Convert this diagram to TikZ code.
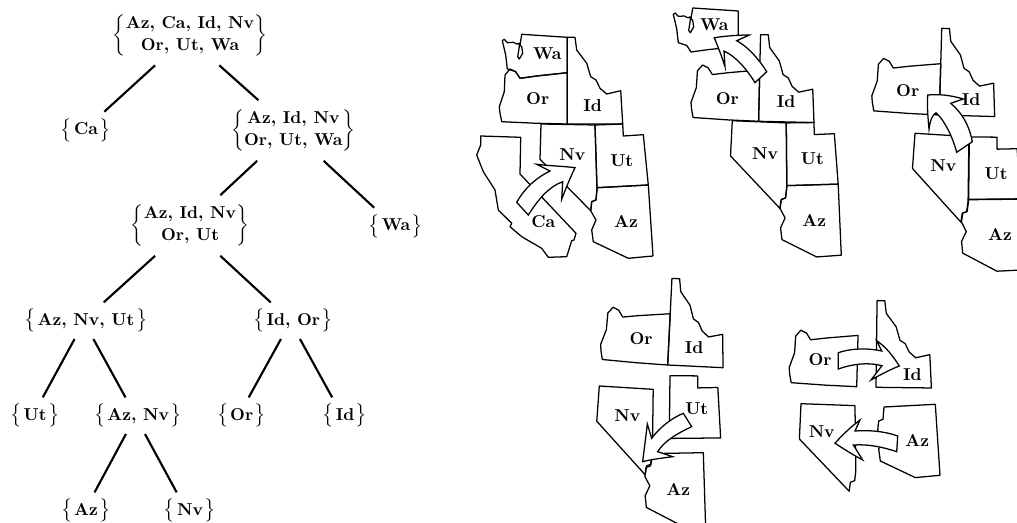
\documentclass[tikz,border=0pt]{standalone}
\usepackage{tikz}
\usepackage{graphicx}
\usepackage{color}

\tikzset{
  stateline/.style={draw,line width=0.95pt,line join=round},
  blockarrow/.style={draw,fill=white,line width=0.95pt,line join=miter},
  treeline/.style={line width=1.6pt},
  setone/.style={inner sep=0pt,scale=1.29,minimum height=20.9pt,font=\fontsize{10}{12.6}\selectfont\bfseries},
  settwo/.style={inner sep=0pt,scale=1.29,minimum height=34.9pt,font=\fontsize{10}{12.6}\selectfont\bfseries},
  statename/.style={inner sep=0.75pt,scale=1.29,font=\bfseries}
}

\newcommand{\openset}{\scalebox{1.13}{$\big\{$}\kern1pt}
\newcommand{\closeset}{\kern1pt\scalebox{1.13}{$\big\}$}}

%state outlines, all in the places of the first map
\newcommand{\shapeWa}{(521.7,34.3) -- (567.3,37.3) -- (567.3,72.7) -- (536.7,76) -- (520,78.3) -- (515.7,71.7) -- (507.3,69) -- (505.7,55) -- (502.3,40.7) -- (504.3,39.3) -- (507.3,42.7) -- (513.3,42.3) -- (516.7,44) -- (519.3,43.3) -- (519.3,46.7) -- (517.7,56.7) -- (519.3,59) -- (522.7,53.3) -- (521.7,46.7) -- (520,45) -- cycle}
\newcommand{\shapeOr}{(567.3,72.7) -- (567.3,124) -- (536.7,123.3) -- (501.7,121.7) -- (500,113.3) -- (499.3,106.7) -- (504.3,91.7) -- (505,75) -- (510,69) -- (515.7,71.7) -- (520,78.3) -- (536.7,76) -- cycle}
\newcommand{\shapeId}{(567.3,37.3) -- (575,37.3) -- (576.7,50) -- (586.7,63.3) -- (590.7,76.7) -- (596,80) -- (600,88.3) -- (606.7,94) -- (620.7,90.7) -- (622.7,124) -- (567.3,124) -- cycle}
\newcommand{\shapeNv}{(541,124) -- (595,125) -- (597,190) -- (596,200) -- (591.7,201.7) -- (590.7,210.7) -- (540,159.3) -- cycle}
\newcommand{\shapeUt}{(595,125) -- (622.7,124) -- (623.3,136) -- (643.3,134.7) -- (648.3,185) -- (597,187.7) -- cycle}
\newcommand{\shapeAz}{(597,187.7) -- (648.3,185) -- (653,256) -- (628.3,258.3) -- (593.3,241.7) -- (591.7,230) -- (596,220) -- (590.7,210.7) -- (591.7,201.7) -- (596,200) -- cycle}
\newcommand{\shapeCa}{(480.7,136) -- (520.7,137.3) -- (520,174) -- (576,233.3) -- (574,240) -- (571.7,240.7) -- (566.7,256.7) -- (548.3,257.3) -- (541.7,248.3) -- (521.7,236.7) -- (510,226.7) -- (511.7,223.3) -- (498.3,210) -- (495,190) -- (483.3,171.7) -- (476.7,155) -- (480.7,145) -- cycle}

\begin{document}
\begin{tikzpicture}[x=0.75pt,y=0.75pt,yscale=-1,xscale=1]
\useasboundingbox (0,0) rectangle (1017,523);
\clip (0,0) rectangle (1017,523);

% Text Node
\draw (190,35) node (root) [settwo] {$\left\{\begin{tabular}{@{}c@{}}Az, Ca, Id, Nv\\ Or, Ut, Wa\end{tabular}\right\}$};
% Text Node
\draw (86,130) node (ca) [setone] {\openset Ca\closeset};
% Text Node
\draw (293.3,130.5) node (rest) [settwo] {$\left\{\begin{tabular}{@{}c@{}}Az, Id, Nv\\ Or, Ut, Wa\end{tabular}\right\}$};
% Text Node
\draw (190,225.5) node (mid) [settwo] {$\left\{\begin{tabular}{@{}c@{}}Az, Id, Nv\\ Or, Ut\end{tabular}\right\}$};
% Text Node
\draw (396,226) node (wa) [setone] {\openset Wa\closeset};
% Text Node
\draw (86,320.7) node (anu) [setone] {\openset Az, Nv, Ut\closeset};
% Text Node
\draw (293.3,320.7) node (io) [setone] {\openset Id, Or\closeset};
% Text Node
\draw (35,415.7) node (ut) [setone] {\openset Ut\closeset};
% Text Node
\draw (138.3,415.7) node (an) [setone] {\openset Az, Nv\closeset};
% Text Node
\draw (241.7,415.7) node (or) [setone] {\openset Or\closeset};
% Text Node
\draw (345,415.7) node (id) [setone] {\openset Id\closeset};
% Text Node
\draw (86,510.7) node (az) [setone] {\openset Az\closeset};
% Text Node
\draw (190,510.7) node (nv) [setone] {\openset Nv\closeset};

%Straight Lines
\draw [treeline] (root.-139.5) -- (ca.45);
\draw [treeline] (root.-46) -- (rest.139.3);
\draw [treeline] (rest.-140) -- (mid.45.5);
\draw [treeline] (rest.-45.4) -- (wa.140.2);
\draw [treeline] (mid.-139.3) -- (anu.46.1);
\draw [treeline] (mid.-45.8) -- (io.141.5);
\draw [treeline] (anu.-122.8) -- (ut.67.6);
\draw [treeline] (anu.-68.6) -- (an.125.4);
\draw [treeline] (io.-124) -- (or.69.5);
\draw [treeline] (io.-70) -- (id.125.7);
\draw [treeline] (an.-124) -- (az.65.3);
\draw [treeline] (an.-70) -- (nv.126);

%Shape: first map
\draw [stateline] \shapeWa;
\draw [stateline] \shapeOr;
\draw [stateline] \shapeId;
\draw [stateline] \shapeNv;
\draw [stateline] \shapeUt;
\draw [stateline] \shapeAz;
\draw [stateline] \shapeCa;
\draw [blockarrow] (516.7,202.3) .. controls (526,186) and (538,177) .. (550,171) -- (536.7,164.3) .. controls (550,166) and (562,166) .. (575,167.7) .. controls (570,178) and (566,188) .. (561.7,199.3) -- (562.7,181.7) .. controls (548,187) and (538,200) .. (528.3,215) -- cycle;

%Shape: second map
\draw [stateline,shift={(171,-26.3)}] \shapeWa;
\begin{scope}[shift={(191.3,-3.3)},rotate around={1.3:(541,124)}]
\draw [stateline] \shapeOr;
\draw [stateline] \shapeId;
\draw [stateline] \shapeNv;
\draw [stateline] \shapeUt;
\draw [stateline] \shapeAz;
\end{scope}
\draw [blockarrow] (766.7,71.7) .. controls (758,58) and (748,47) .. (736.7,40.7) -- (749.3,35) .. controls (737,35) and (726,36) .. (714.3,37.7) .. controls (718,47) and (722,57) .. (725,66.7) -- (724,51) .. controls (735,56) and (746,68) .. (755,82.7) -- cycle;

%Shape: third map
\draw [stateline,shift={(372,-9)},rotate around={1.6:(567.3,124)}] \shapeOr;
\draw [stateline,shift={(372,-9)},rotate around={1.6:(567.3,124)}] \shapeId;
\draw [stateline,shift={(374,9.3)},rotate around={2.5:(541,124)}] \shapeNv;
\draw [stateline,shift={(374.3,12)},rotate around={2.4:(595,125)}] \shapeUt;
\draw [stateline,shift={(371.7,11.6)},rotate around={2.5:(597,187.7)}] \shapeAz;
\draw [blockarrow] (972.3,141.7) .. controls (969,124) and (961,112) .. (950.7,103.3) -- (963.3,99) .. controls (950,95) and (938,94) .. (927.7,95) .. controls (927,108) and (928,118) .. (929,129.3) .. controls (930,121) and (932,115) .. (936,112.7) .. controls (944,120) and (952,135) .. (956.7,152.3) -- cycle;

%Shape: fourth map
\draw [stateline,shift={(100.4,241)},rotate around={2.8:(567.3,124)}] \shapeOr;
\draw [stateline,shift={(100.4,241)},rotate around={2.8:(567.3,124)}] \shapeId;
\draw [stateline,shift={(58.3,262)},rotate around={2.5:(541,124)}] \shapeNv;
\draw [stateline,shift={(75,250.7)},rotate around={2.5:(595,125)}] \shapeUt;
\draw [stateline,shift={(55,267.7)},rotate around={2:(648.3,185)}] \shapeAz;
\draw [blockarrow] (683.3,413.3) .. controls (672,418) and (660,427) .. (651.7,438.3) -- (647.3,424) .. controls (646,436) and (644,450) .. (642.7,461.7) .. controls (653,459) and (663,458) .. (672.7,456.7) -- (657.7,451.7) .. controls (664,441) and (678,433) .. (691.7,426.7) -- cycle;

%Shape: fifth map
\draw [stateline,shift={(289.4,262.7)},rotate around={1.5:(567.3,124)}] \shapeOr;
\draw [stateline,shift={(308.7,263.3)},rotate around={0.7:(567.3,124)}] \shapeId;
\draw [stateline,shift={(260,279.7)},rotate around={1:(541,124)}] \shapeNv;
\draw [stateline,shift={(287,219.3)}] \shapeAz;
\draw [blockarrow] (838.3,352.7) .. controls (852,348) and (868,348) .. (881.7,351) -- (876.7,340.7) .. controls (886,347) and (893,356) .. (899.3,366) .. controls (889,370) and (880,375) .. (871,380) -- (882,365.7) .. controls (868,362) and (852,364) .. (838.3,369) -- cycle;
\draw [blockarrow] (897.7,436) .. controls (884,431) and (868,430) .. (855,431) -- (860,420) .. controls (851,427) and (843,434) .. (835,443.3) .. controls (844,449) and (853,455) .. (862.7,460) -- (853.3,445) .. controls (868,444) and (883,447) .. (896.7,451.7) -- cycle;

% Text Node
\draw (547.3,54) node (wa1) [statename] {Wa};
\draw (537.7,99) node (or1) [statename] {Or};
\draw (592.7,105.7) node (id1) [statename] {Id};
\draw (572.3,155) node (nv1) [statename] {Nv};
\draw (621.7,161) node (ut1) [statename] {Ut};
\draw (543.3,221.7) node (ca1) [statename] {Ca};
\draw (626,221.7) node (az1) [statename] {Az};
% Text Node
\draw (714.3,24.3) node (wa2) [statename] {Wa};
\draw (727.3,99) node (or2) [statename] {Or};
\draw (786,101.7) node (id2) [statename] {Id};
\draw (765,154) node (nv2) [statename] {Nv};
\draw (812.3,159) node (ut2) [statename] {Ut};
\draw (814.3,220.7) node (az2) [statename] {Az};
% Text Node
\draw (907.7,91) node (or3) [statename] {Or};
\draw (971,100) node (id3) [statename] {Id};
\draw (943.3,165.7) node (nv3) [statename] {Nv};
\draw (996,173.3) node (ut3) [statename] {Ut};
\draw (1000,235) node (az3) [statename] {Az};
% Text Node
\draw (641,338.3) node (or4) [statename] {Or};
\draw (694,347.7) node (id4) [statename] {Id};
\draw (627.3,415.7) node (nv4) [statename] {Nv};
\draw (696.7,408.3) node (ut4) [statename] {Ut};
\draw (678.3,489) node (az4) [statename] {Az};
% Text Node
\draw (820,360) node (or5) [statename] {Or};
\draw (912.3,374.3) node (id5) [statename] {Id};
\draw (821.7,431.7) node (nv5) [statename] {Nv};
\draw (917.3,440.7) node (az5) [statename] {Az};

\end{tikzpicture}
\end{document}
